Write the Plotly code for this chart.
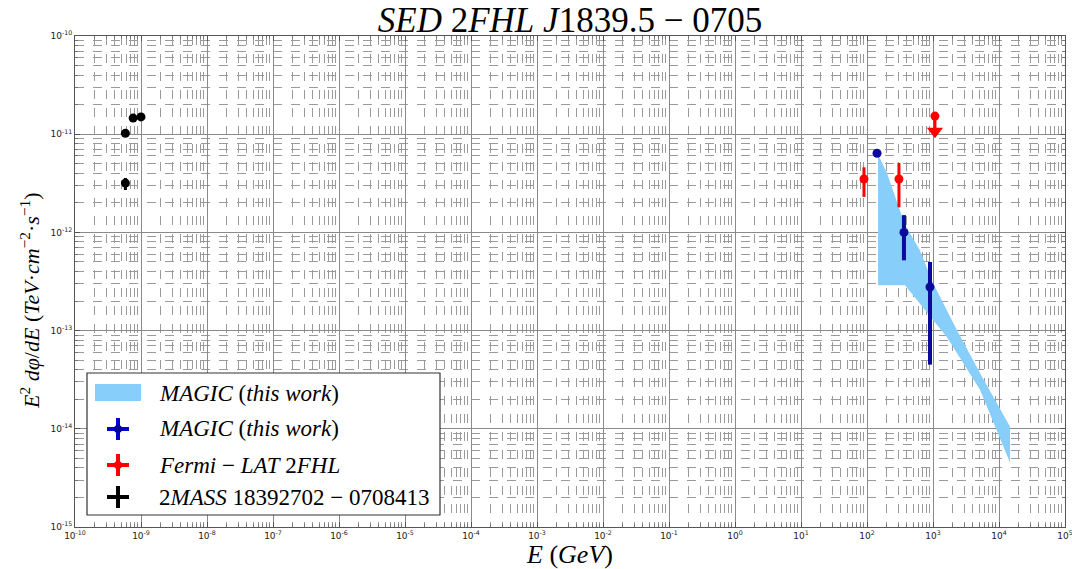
import plotly.graph_objects as go

# --- 2MASS counterpart (GeV, TeV cm^-2 s^-1) ---
mass_e = [5.8e-10, 7.6e-10, 1.0e-9, 5.8e-10]
mass_f = [1.02e-11, 1.46e-11, 1.50e-11, 3.18e-12]
mass_err_hi = [0, 0, 0, 0.40e-12]
mass_err_lo = [0, 0, 0, 0.48e-12]

# --- Fermi-LAT 2FHL points ---
fermi_e = [90, 305]
fermi_f = [3.5e-12, 3.5e-12]
fermi_err_hi = [1.1e-12, 1.6e-12]
fermi_err_lo = [1.2e-12, 1.7e-12]

# Fermi-LAT upper limit
fermi_ul_e = [1070]
fermi_ul_f = [1.53e-11]
ul_arrow_factor = 0.66

# --- MAGIC spectral points ---
magic_e = [142, 363, 900]
magic_f = [6.4e-12, 1.0e-12, 2.78e-13]
magic_err_hi = [0.4e-12, 0.5e-12, 2.22e-13]
magic_err_lo = [0.4e-12, 0.48e-12, 2.33e-13]

# --- MAGIC butterfly (upper / lower contour) ---
bf_up_e = [147, 201, 377, 631, 1000, 2310, 5150, 14700]
bf_up_f = [6.2e-12, 4.0e-12, 1.19e-12, 6.6e-13, 3.05e-13, 1.01e-13, 3.7e-14, 1.05e-14]
bf_lo_e = [147, 377, 1620, 5150, 14700]
bf_lo_f = [2.9e-13, 2.9e-13, 8.6e-14, 2.5e-14, 4.5e-15]

# decade ticks
x_decades = list(range(-10, 6))
y_decades = list(range(-15, -9))

legend_labels = [
    "<i>MAGIC</i> (<i>this work</i>)",
    "<i>MAGIC</i> (<i>this work</i>)",
    "<i>Fermi</i> − <i>LAT</i> 2<i>FHL</i>",
    "2<i>MASS</i> 18392702 − 0708413",
]

SERIF = "Liberation Serif"
BAND = "#87CEFA"
DARKBLUE = "#0a0a9c"
W, H = 1072, 569
ML, MR, MT, MB = 75, 7, 36, 42
PW, PH = W - ML - MR, H - MT - MB

fig = go.Figure()

# butterfly band
fig.add_trace(go.Scatter(
    x=bf_up_e + bf_lo_e[::-1], y=bf_up_f + bf_lo_f[::-1],
    fill="toself", fillcolor=BAND, mode="none", hoverinfo="skip",
))


def points(x, y, hi, lo, color, thick, size):
    return go.Scatter(
        x=x, y=y, mode="markers",
        marker=dict(color=color, size=size),
        error_y=dict(type="data", symmetric=False, array=hi, arrayminus=lo,
                     color=color, thickness=thick, width=0),
    )


fig.add_trace(points(magic_e, magic_f, magic_err_hi, magic_err_lo, DARKBLUE, 4, 9))
fig.add_trace(points(fermi_e, fermi_f, fermi_err_hi, fermi_err_lo, "red", 3, 9))
fig.add_trace(points(mass_e, mass_f, mass_err_hi, mass_err_lo, "black", 3, 9))

# upper limit: marker at the limit, shaft and arrowhead below
ul_tip = [f * ul_arrow_factor for f in fermi_ul_f]
fig.add_trace(go.Scatter(
    x=fermi_ul_e, y=fermi_ul_f, mode="markers",
    marker=dict(color="red", size=9),
    error_y=dict(type="data", symmetric=False, array=[0],
                 arrayminus=[f - t for f, t in zip(fermi_ul_f, ul_tip)],
                 color="red", thickness=3, width=0),
))
fig.add_trace(go.Scatter(
    x=fermi_ul_e, y=[t * 1.06 for t in ul_tip], mode="markers",
    marker=dict(color="red", size=14, symbol="triangle-down"),
))


def decade_text(d):
    return "10<sup>%d</sup>" % d


axis_common = dict(
    type="log", showline=True, linecolor="#555555", linewidth=1, mirror="allticks",
    ticks="inside", ticklen=5, tickcolor="#555555",
    showgrid=True, gridcolor="#8a8a8a", gridwidth=1, zeroline=False,
    automargin=False, ticklabeloverflow="allow",
    tickfont=dict(family="DejaVu Sans", size=9, color="#222222"),
    minor=dict(dtick="D1", ticks="inside", ticklen=3, tickcolor="#777777",
               showgrid=True, gridcolor="#9a9a9a", griddash="dash", gridwidth=1),
)

fig.update_xaxes(**axis_common, range=[-10, 5],
                 tickvals=[10.0 ** d for d in x_decades],
                 ticktext=[decade_text(d) for d in x_decades],
                 title=dict(text="<i>E</i> (<i>GeV</i>)",
                            font=dict(family=SERIF, size=26, color="black"),
                            standoff=4))
fig.update_yaxes(**axis_common, range=[-15, -10],
                 tickvals=[10.0 ** d for d in y_decades],
                 ticktext=[decade_text(d) for d in y_decades])


# ---- legend box drawn in pixel space of the figure ----
def px(x):
    return (x - ML) / PW


def py(y):
    return (H - MB - y) / PH


shapes = []
annotations = []
shapes.append(dict(type="rect", xref="paper", yref="paper",
                   x0=px(87), x1=px(440), y0=py(515), y1=py(373),
                   fillcolor="white", line=dict(color="#333333", width=1.2),
                   layer="above"))
# band swatch
shapes.append(dict(type="rect", xref="paper", yref="paper",
                   x0=px(95), x1=px(141), y0=py(401), y1=py(384),
                   fillcolor=BAND, line=dict(width=0), layer="above"))

cross_rows = [(429, "#0000d0", "#0000a0", True),
              (465, "red", "red", True),
              (497, "black", "black", False)]
for yc, col, mcol, dot in cross_rows:
    shapes.append(dict(type="line", xref="paper", yref="paper",
                       x0=px(107), x1=px(129), y0=py(yc), y1=py(yc),
                       line=dict(color=col, width=4), layer="above"))
    shapes.append(dict(type="line", xref="paper", yref="paper",
                       x0=px(118), x1=px(118), y0=py(yc - 11), y1=py(yc + 11),
                       line=dict(color=col, width=4), layer="above"))
    if dot:
        shapes.append(dict(type="circle", xref="paper", yref="paper",
                           x0=px(114), x1=px(122), y0=py(yc + 4), y1=py(yc - 4),
                           fillcolor=mcol, line=dict(width=0), layer="above"))

for yc, lbl in zip([393, 429, 465, 497], legend_labels):
    annotations.append(dict(text=lbl, xref="paper", yref="paper",
                            x=px(157), y=py(yc), xanchor="left", yanchor="middle",
                            showarrow=False,
                            font=dict(family=SERIF, size=23, color="black")))

# y-axis title
annotations.append(dict(
    text="<i>E</i><sup>2</sup> <i>dφ</i>/<i>dE</i> (<i>TeV</i>·<i>cm</i><sup>−2</sup>·<i>s</i><sup>−1</sup>)",
    xref="paper", yref="paper", x=px(30), y=py(301), xanchor="center", yanchor="middle",
    textangle=-90, showarrow=False,
    font=dict(family=SERIF, size=22, color="black")))

fig.update_layout(
    width=W, height=H,
    margin=dict(l=ML, r=MR, t=MT, b=MB),
    paper_bgcolor="white", plot_bgcolor="white",
    title=dict(text="<i>SED</i> 2<i>FHL</i> <i>J</i>1839.5 − 0705",
               x=0.5317, xanchor="center", y=0.965, yanchor="middle",
               font=dict(family=SERIF, size=35, color="black")),
    shapes=shapes, annotations=annotations,
    showlegend=False,
)

fig.write_html("out.html")
